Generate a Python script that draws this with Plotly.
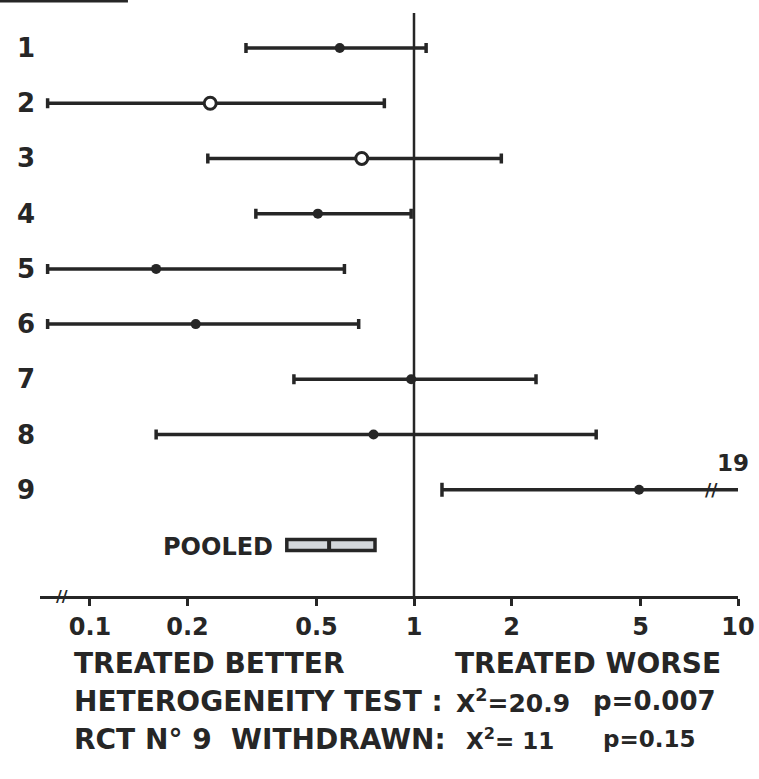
import math
import plotly.graph_objects as go

# Odds ratios with 95% confidence limits for each trial
trials = ["1", "2", "3", "4", "5", "6", "7", "8", "9"]
odds_ratio = [0.59, 0.235, 0.69, 0.505, 0.16, 0.212, 0.98, 0.75, 4.95]
ci_low = [0.303, 0.074, 0.231, 0.325, 0.074, 0.074, 0.426, 0.16, 1.22]
ci_high = [1.09, 0.81, 1.86, 0.98, 0.61, 0.675, 2.38, 3.65, 19.0]
open_marker = [False, True, True, False, False, False, False, False, False]

# Pooled estimate
pooled_or = 0.547
pooled_low = 0.405
pooled_high = 0.758

tick_vals = [0.1, 0.2, 0.5, 1, 2, 5, 10]
tick_text = ["0.1", "0.2", "0.5", "1", "2", "5", "10"]

X_MIN_LOG = -1.1543
X_MAX = 10
BREAK_ROW9 = 8.3
BREAK_AXIS = 0.082

INK = "#262626"
BG = "#ffffff"
FONT = "DejaVu Sans"

rows = list(range(1, len(trials) + 1))
pooled_row = len(trials) + 1


def lx(v):
    # annotations on a log axis take log10 positions
    return math.log10(v)


fig = go.Figure()

# Trials with the whole interval on the scale: capped interval and solid dot
main = [i for i in range(len(trials)) if ci_high[i] <= X_MAX]
fig.add_trace(go.Scatter(
    x=[odds_ratio[i] for i in main],
    y=[rows[i] for i in main],
    mode="markers",
    marker=dict(size=10, color=INK,
                opacity=[0 if open_marker[i] else 1 for i in main]),
    error_x=dict(
        type="data", symmetric=False,
        array=[ci_high[i] - odds_ratio[i] for i in main],
        arrayminus=[odds_ratio[i] - ci_low[i] for i in main],
        color=INK, thickness=3.5, width=5,
    ),
    cliponaxis=False,
    showlegend=False,
))

# Open circles drawn on top of their intervals
opened = [i for i in range(len(trials)) if open_marker[i]]
fig.add_trace(go.Scatter(
    x=[odds_ratio[i] for i in opened],
    y=[rows[i] for i in opened],
    mode="markers",
    marker=dict(size=12, color="white", line=dict(color=INK, width=3)),
    cliponaxis=False,
    showlegend=False,
))

# Interval running off the scale: drawn to the axis end with a break
for i in range(len(trials)):
    if ci_high[i] > X_MAX:
        fig.add_trace(go.Scatter(
            x=[ci_low[i], X_MAX], y=[rows[i], rows[i]],
            mode="lines", line=dict(color=INK, width=3.5),
            cliponaxis=False, showlegend=False,
        ))
        fig.add_trace(go.Scatter(
            x=[ci_low[i]], y=[rows[i]], mode="markers",
            marker=dict(symbol="line-ns", size=10, line=dict(color=INK, width=3.5)),
            cliponaxis=False, showlegend=False,
        ))
        fig.add_trace(go.Scatter(
            x=[odds_ratio[i]], y=[rows[i]], mode="markers",
            marker=dict(size=10, color=INK),
            cliponaxis=False, showlegend=False,
        ))
        fig.add_annotation(
            x=lx(BREAK_ROW9), y=rows[i], xref="x", yref="y",
            text="<b>//</b>", showarrow=False,
            xanchor="center", yanchor="middle",
            font=dict(family=FONT, size=17, color=INK),
        )
        fig.add_annotation(
            x=lx(X_MAX), y=rows[i], xref="x", yref="y",
            text="<b>%g</b>" % ci_high[i], showarrow=False,
            xanchor="center", yanchor="middle",
            yshift=27, xshift=-5,
            font=dict(family=FONT, size=23, color=INK),
        )

# Pooled estimate box
fig.add_shape(
    type="rect", xref="x", yref="y", layer="below",
    x0=pooled_low, x1=pooled_high,
    y0=pooled_row - 0.1, y1=pooled_row + 0.1,
    line=dict(color=INK, width=3.5), fillcolor="#d3d7db",
)
fig.add_trace(go.Scatter(
    x=[pooled_or], y=[pooled_row], mode="markers",
    marker=dict(symbol="line-ns", size=10, line=dict(color=INK, width=4)),
    cliponaxis=False, showlegend=False,
))
fig.add_annotation(
    x=lx(pooled_low), y=pooled_row, xref="x", yref="y",
    text="<b>POOLED</b>", showarrow=False,
    xanchor="right", yanchor="middle", xshift=-12, yshift=-2,
    font=dict(family=FONT, size=24, color=INK),
)

# Line of no effect
fig.add_shape(
    type="line", xref="x", yref="paper", layer="below",
    x0=1, x1=1, y0=0, y1=0.978,
    line=dict(color=INK, width=2.5),
)

# Bar across the top-left corner
fig.add_shape(
    type="line", xref="paper", yref="paper",
    x0=-0.06, x1=0.126, y0=1.0, y1=1.0,
    line=dict(color=INK, width=5),
)

# Break on the axis
fig.add_annotation(
    x=lx(BREAK_AXIS), y=0, xref="x", yref="paper",
    text="<b>//</b>", showarrow=False,
    xanchor="center", yanchor="middle",
    font=dict(family=FONT, size=16, color=INK),
)

# Trial numbers
for r, name in zip(rows, trials):
    fig.add_annotation(
        x=-0.02, y=r, xref="paper", yref="y",
        text="<b>%s</b>" % name, showarrow=False,
        xanchor="center", yanchor="middle",
        font=dict(family=FONT, size=26, color=INK),
    )


# Captions below the axis
def caption(text, xpx, ypx, size=28):
    fig.add_annotation(
        x=(xpx - 40) / 698, y=(596 - ypx) / 596, xref="paper", yref="paper",
        text="<b>%s</b>" % text, showarrow=False,
        xanchor="left", yanchor="middle",
        font=dict(family=FONT, size=size, color=INK),
    )


caption("TREATED BETTER", 72, 663)
caption("TREATED WORSE", 453, 663)
caption("HETEROGENEITY TEST :", 72, 701)
caption("X<sup>2</sup>=20.9", 454, 701, 25)
caption("p=0.007", 591, 701, 26)
caption("RCT N° 9  WITHDRAWN:", 72, 739)
caption("X<sup>2</sup>= 11", 464, 739, 23)
caption("p=0.15", 601, 739, 23)

row_px = 55.22
y_top = 1 - 48 / row_px
y_bottom = 1 + (596 - 48) / row_px

fig.update_layout(
    width=759, height=779,
    margin=dict(l=40, r=21, t=0, b=183),
    paper_bgcolor=BG, plot_bgcolor=BG,
    font=dict(family=FONT, color=INK),
    xaxis=dict(
        type="log", range=[X_MIN_LOG, 1.0],
        tickvals=tick_vals, ticktext=["<b>%s</b>" % t for t in tick_text],
        tickfont=dict(family=FONT, size=24, color=INK),
        showline=True, linecolor=INK, linewidth=2.5,
        ticks="outside", ticklen=7, tickwidth=2.5, tickcolor=INK,
        showgrid=False, zeroline=False,
        ticklabelstandoff=0,
    ),
    yaxis=dict(
        range=[y_bottom, y_top], visible=False,
        showgrid=False, zeroline=False,
    ),
)

fig.write_html("out.html")
